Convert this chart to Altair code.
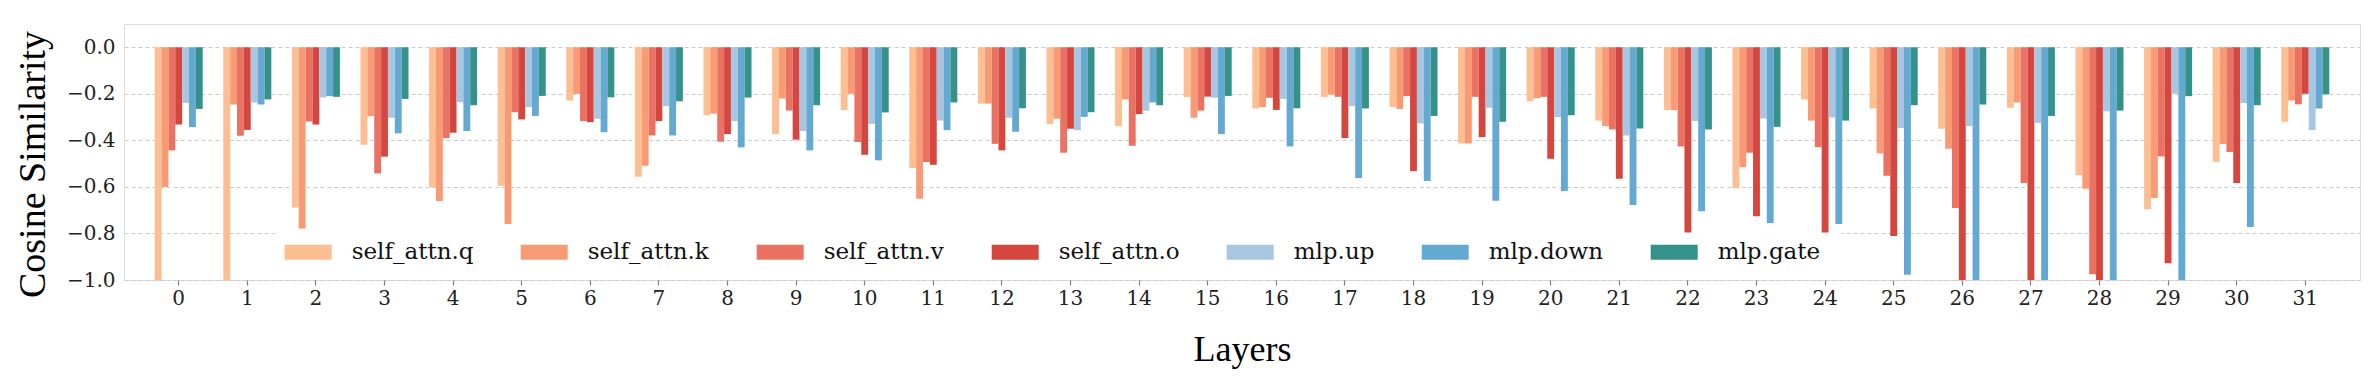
import altair as alt
import pandas as pd

layers = list(range(32))
series = ["self_attn.q", "self_attn.k", "self_attn.v", "self_attn.o", "mlp.up", "mlp.down", "mlp.gate"]
colors = ["#fdbe91", "#f89b74", "#ea7262", "#d5463f", "#a8c6e0", "#63a9d1", "#35928b"]

q = [-1.0, -1.0, -0.688, -0.419, -0.600, -0.595, -0.229, -0.556, -0.292, -0.373, -0.270, -0.519,
     -0.242, -0.330, -0.339, -0.214, -0.263, -0.214, -0.257, -0.413, -0.232, -0.315, -0.270, -0.606,
     -0.224, -0.263, -0.350, -0.260, -0.549, -0.696, -0.492, -0.320]
k = [-0.600, -0.246, -0.779, -0.296, -0.661, -0.759, -0.200, -0.509, -0.285, -0.220, -0.200, -0.651,
     -0.242, -0.307, -0.224, -0.303, -0.257, -0.203, -0.265, -0.413, -0.219, -0.339, -0.270, -0.515,
     -0.315, -0.456, -0.436, -0.237, -0.608, -0.648, -0.416, -0.229]
v = [-0.443, -0.380, -0.319, -0.542, -0.390, -0.279, -0.317, -0.379, -0.406, -0.272, -0.407, -0.493,
     -0.415, -0.453, -0.423, -0.272, -0.217, -0.213, -0.210, -0.213, -0.213, -0.353, -0.426, -0.453,
     -0.429, -0.552, -0.691, -0.583, -0.975, -0.469, -0.450, -0.245]
o = [-0.332, -0.355, -0.332, -0.470, -0.367, -0.310, -0.322, -0.317, -0.373, -0.397, -0.462, -0.505,
     -0.443, -0.350, -0.287, -0.212, -0.269, -0.390, -0.532, -0.386, -0.479, -0.565, -0.840, -0.726,
     -0.830, -0.811, -1.0, -1.0, -1.0, -0.928, -0.583, -0.200]
up = [-0.239, -0.237, -0.216, -0.303, -0.236, -0.257, -0.307, -0.253, -0.317, -0.360, -0.329, -0.315,
      -0.303, -0.356, -0.273, -0.217, -0.222, -0.253, -0.327, -0.260, -0.300, -0.379, -0.317, -0.306,
      -0.302, -0.347, -0.339, -0.325, -0.275, -0.200, -0.240, -0.356]
down = [-0.343, -0.246, -0.210, -0.370, -0.360, -0.295, -0.365, -0.379, -0.430, -0.443, -0.486, -0.356,
        -0.363, -0.299, -0.237, -0.373, -0.426, -0.562, -0.575, -0.659, -0.618, -0.678, -0.705, -0.755,
        -0.759, -0.977, -1.0, -1.0, -1.0, -1.0, -0.772, -0.263]
gate = [-0.265, -0.224, -0.213, -0.222, -0.249, -0.209, -0.215, -0.232, -0.216, -0.249, -0.280, -0.237,
        -0.262, -0.279, -0.249, -0.209, -0.262, -0.263, -0.295, -0.320, -0.292, -0.349, -0.353, -0.342,
        -0.315, -0.249, -0.246, -0.295, -0.272, -0.210, -0.249, -0.202]

y_ticks = [-1.0, -0.8, -0.6, -0.4, -0.2, 0.0]

values = [q, k, v, o, up, down, gate]
rows = []
for name, vals in zip(series, values):
    for layer, val in zip(layers, vals):
        rows.append({"layer": layer, "series": name, "value": val})
df = pd.DataFrame(rows)

serif = "DejaVu Serif"
title_font = "Liberation Serif"
rect_path = "M-1,-0.32H1V0.32H-1Z"

bars = alt.Chart(df).mark_bar(clip=True).encode(
    x=alt.X("layer:O", sort=layers,
            scale=alt.Scale(paddingInner=0.3, paddingOuter=0.4475),
            axis=alt.Axis(title="Layers", labelAngle=0, labelFont=serif, labelFontSize=20,
                          labelColor="#222222", tickColor="#7f7f7f", tickSize=5, tickWidth=1.2,
                          labelPadding=3, domain=False, grid=False,
                          titleFont=title_font, titleFontSize=36, titleFontWeight="normal",
                          titleColor="#000000", titleY=80, titleBaseline="alphabetic")),
    xOffset=alt.XOffset("series:N", sort=series,
                        scale=alt.Scale(paddingInner=0, paddingOuter=0)),
    y=alt.Y("value:Q", scale=alt.Scale(domain=[-1.0, 0.1], nice=False, zero=True),
            axis=alt.Axis(title="Cosine Similarity", values=y_ticks, format=".1f",
                          labelFont=serif, labelFontSize=20, labelColor="#222222",
                          tickSize=0, labelPadding=9, domain=False,
                          grid=True, gridColor="#cccccc", gridDash=[4, 3], gridWidth=1,
                          titleFont=title_font, titleFontSize=38, titleFontWeight="normal",
                          titleColor="#000000", titleAngle=270, titleX=-91, titleY=140,
                          titleAlign="center", titleBaseline="middle")),
    color=alt.Color("series:N", sort=series,
                    scale=alt.Scale(domain=series, range=colors),
                    legend=alt.Legend(title=None, orient="none", legendX=160.7, legendY=204.5,
                                      direction="horizontal", columns=7, padding=0,
                                      symbolType=rect_path, symbolSize=2209,
                                      symbolStrokeWidth=0, symbolOpacity=1,
                                      labelFont=serif, labelFontSize=23, labelColor="#111111",
                                      labelOffset=20, columnPadding=47, labelLimit=0)),
)

legend_bg = alt.Chart(pd.DataFrame({"a": [0]})).mark_rect(color="white").encode(
    x=alt.value(152), x2=alt.value(1717), y=alt.value(208.5), y2=alt.value(248)
)

chart = alt.layer(bars, legend_bg).properties(
    width=2236, height=256,
    autosize=alt.AutoSizeParams(type="none"),
    padding={"left": 116, "top": 16, "right": 12, "bottom": 100},
).configure_view(stroke="#7f7f7f", strokeWidth=1.5).configure(background="white")

chart.save("out.html", embed_options={"renderer": "svg", "actions": False})
